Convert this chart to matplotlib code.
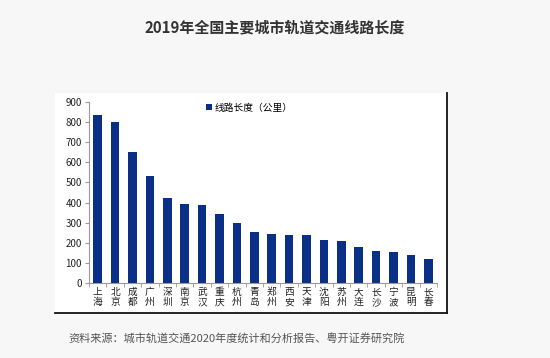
import matplotlib.pyplot as plt
from matplotlib.patches import Rectangle
from matplotlib.lines import Line2D

plt.rcParams['font.family'] = ['Noto Sans CJK SC', 'DejaVu Sans']

# 數據
cities = ['上海', '北京', '成都', '广州', '深圳', '南京', '武汉', '重庆', '杭州', '青岛',
          '郑州', '西安', '天津', '沈阳', '苏州', '大连', '长沙', '宁波', '昆明', '长春']
lengths = [835, 800, 652, 531, 422, 394, 387, 343, 300, 254,
           244, 239, 239, 212, 210, 181, 157, 155, 139, 118]
yticks = [0, 100, 200, 300, 400, 500, 600, 700, 800, 900]

fig = plt.figure(figsize=(5.5, 3.58), dpi=100)
fig.patch.set_facecolor('#f7f7f7')

# 白色面板 + 右下黑邊
W, H = 550, 358
x0, x1, y0, y1 = 55 / W, 447 / W, 1 - 313 / H, 1 - 93 / H
fig.patches.append(Rectangle((x0, y0), x1 - x0, y1 - y0, transform=fig.transFigure,
                             facecolor='white', edgecolor='none', zorder=-5))
fig.lines.append(Line2D([x1, x1], [y0, y1], transform=fig.transFigure, color='#111111', lw=1.3))
fig.lines.append(Line2D([x0, x1], [y0, y0], transform=fig.transFigure, color='#111111', lw=1.3))

ax = fig.add_axes([89 / W, 1 - 283 / H, (437 - 89) / W, (283 - 102) / H])
ax.set_facecolor('white')
xs = list(range(len(cities)))
ax.bar(xs, lengths, width=0.5, color='#0a2f87', label='线路长度（公里）', zorder=2)

ax.set_xlim(-0.5, len(cities) - 0.5)
ax.set_ylim(0, 900)
ax.set_yticks(yticks)
ax.set_yticklabels([str(v) for v in yticks], fontsize=7, color='#222222')
ax.set_xticks(xs)
ax.set_xticklabels(['\n'.join(c) for c in cities], fontsize=7, color='#222222', linespacing=1.0)
ax.set_xticks([i + 0.5 for i in range(-1, len(cities))], minor=True)
ax.tick_params(axis='x', which='major', length=0, pad=3)
ax.tick_params(axis='x', which='minor', length=3, color='#999999', direction='out')
ax.tick_params(axis='y', length=3, color='#999999', direction='out', pad=2)

for s in ['top', 'right']:
    ax.spines[s].set_visible(False)
ax.spines['left'].set_color('#999999')
ax.spines['bottom'].set_color('#999999')

leg = ax.legend(loc='upper center', bbox_to_anchor=(0.46, 1.045), frameon=False,
                fontsize=7, handlelength=0.6, handleheight=0.6, handletextpad=0.3)

fig.text(0.5, 1 - 27 / H, '2019年全国主要城市轨道交通线路长度', ha='center', va='center',
         fontsize=10.8, fontweight='bold', color='#333333')
fig.text(0.43, 1 - 338 / H, '资料来源：城市轨道交通2020年度统计和分析报告、粤开证券研究院',
         ha='center', va='center', fontsize=8, color='#555555')

plt.savefig('out.png', dpi=100, facecolor=fig.get_facecolor())
